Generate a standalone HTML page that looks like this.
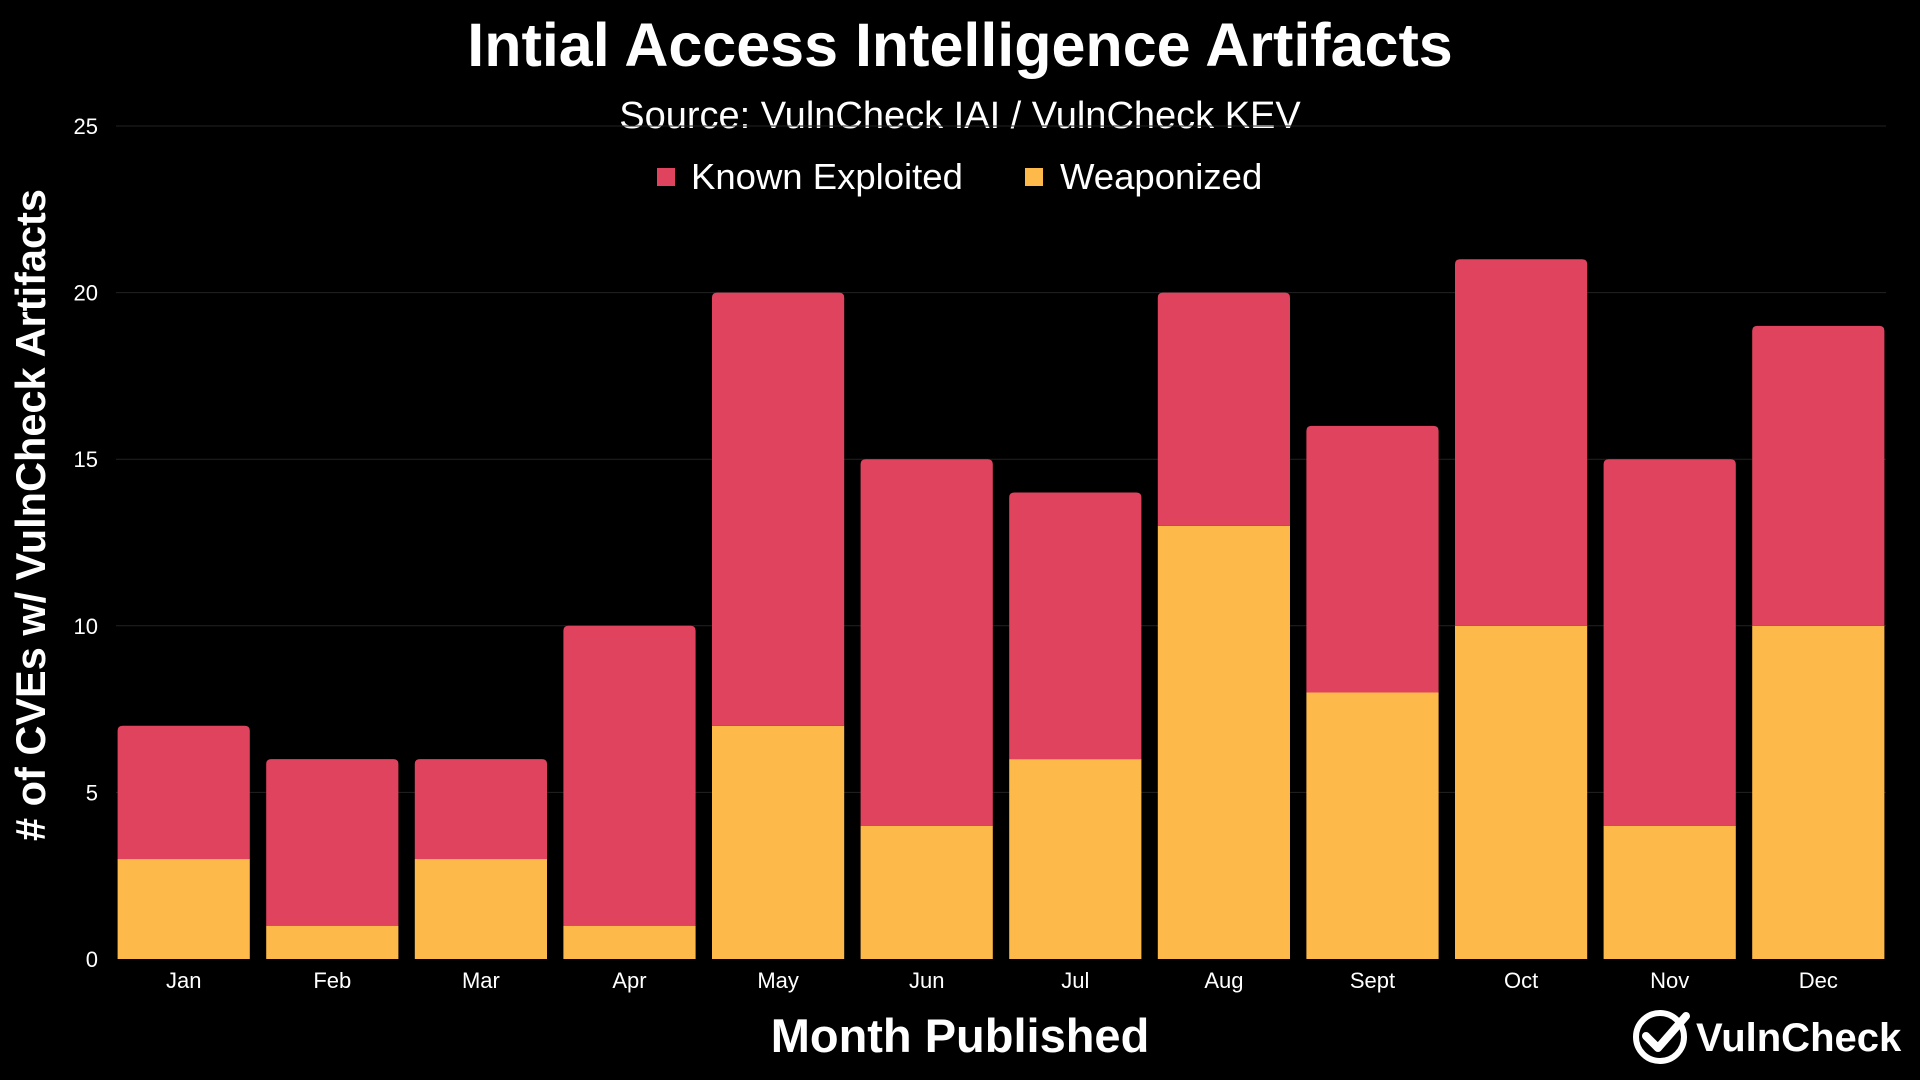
<!DOCTYPE html>
<html><head><meta charset="utf-8"><style>
html,body{margin:0;padding:0;background:#000;width:1920px;height:1080px;overflow:hidden}
svg{display:block;font-family:"Liberation Sans","DejaVu Sans",sans-serif}
</style></head><body>
<svg id="chart" width="1920" height="1080" viewBox="0 0 1920 1080">
<text x="960" y="66" text-anchor="middle" fill="#fff" font-size="61" font-weight="bold">Intial Access Intelligence Artifacts</text>
<text x="960" y="128" text-anchor="middle" fill="#fff" font-size="38">Source: VulnCheck IAI / VulnCheck KEV</text>
<g>
<g><rect x="657" y="168" width="18" height="18" fill="#E0435E"/><text x="691" y="189" fill="#fff" font-size="36.5">Known Exploited</text></g>
<g><rect x="1025" y="168" width="18" height="18" fill="#FDB94A"/><text x="1060" y="189" fill="#fff" font-size="36.5">Weaponized</text></g>
</g>
<g id="grid"></g>
<g id="yticks"></g>
<g id="bars"></g>
<g id="xticks"></g>
<text x="960" y="1052" text-anchor="middle" fill="#fff" font-size="47" font-weight="bold">Month Published</text>
<text transform="translate(45,515) rotate(-90)" text-anchor="middle" fill="#fff" font-size="41.5" font-weight="bold"># of CVEs w/ VulnCheck Artifacts</text>
<g>
<circle cx="1660" cy="1037" r="24" fill="none" stroke="#fff" stroke-width="6"/>
<path d="M1646 1036 L1658 1048 L1686 1016" fill="none" stroke="#fff" stroke-width="8" stroke-linecap="round" stroke-linejoin="round"/>
<text x="1696" y="1051" fill="#fff" font-size="40" font-weight="bold">VulnCheck</text>
</g>
</svg>
<script>
const months=["Jan","Feb","Mar","Apr","May","Jun","Jul","Aug","Sept","Oct","Nov","Dec"];
const weaponized=[3,1,3,1,7,4,6,13,8,10,4,10];
const knownExploited=[4,5,3,9,13,11,8,7,8,11,11,9];
const yTicks=[0,5,10,15,20,25];
const NS="http://www.w3.org/2000/svg";
const L=116,R=1886,Y0=959,Y25=126,X0=117.6,step=148.6,bw=132.2;
const y=v=>Y0-(Y0-Y25)*v/25;
const xs=i=>X0+i*step;
function mk(t,a,p){const e=document.createElementNS(NS,t);for(const k in a)e.setAttribute(k,a[k]);p.appendChild(e);return e;}
const grid=document.getElementById('grid'),yt=document.getElementById('yticks'),bars=document.getElementById('bars'),xt=document.getElementById('xticks');
yTicks.forEach(v=>{
 if(v>0){const g=mk('line',{x1:L,x2:R,y1:y(v),y2:y(v),stroke:'#222','stroke-width':1},grid);
 
 }
 const t=mk('text',{x:98,y:y(v)+8,'text-anchor':'end',fill:'#fff','font-size':22},yt);t.textContent=v;
 
 
});
function topRounded(x,y1,w,h,r){return `M${x} ${y1+h} L${x} ${y1+r} Q${x} ${y1} ${x+r} ${y1} L${x+w-r} ${y1} Q${x+w} ${y1} ${x+w} ${y1+r} L${x+w} ${y1+h} Z`;}
months.forEach((m,i)=>{
 const x=xs(i),w=weaponized[i],k=knownExploited[i];
 const a=mk('rect',{x:x,y:y(w),width:bw,height:Y0-y(w),fill:'#FDB94A'},bars);
 
 
 const b=mk('path',{d:topRounded(x,y(w+k),bw,y(w)-y(w+k),5),fill:'#E0435E'},bars);
 
 
 const t=mk('text',{x:x+bw/2,y:988,'text-anchor':'middle',fill:'#fff','font-size':22},xt);t.textContent=m;
 
 
});
</script>
</body></html>
